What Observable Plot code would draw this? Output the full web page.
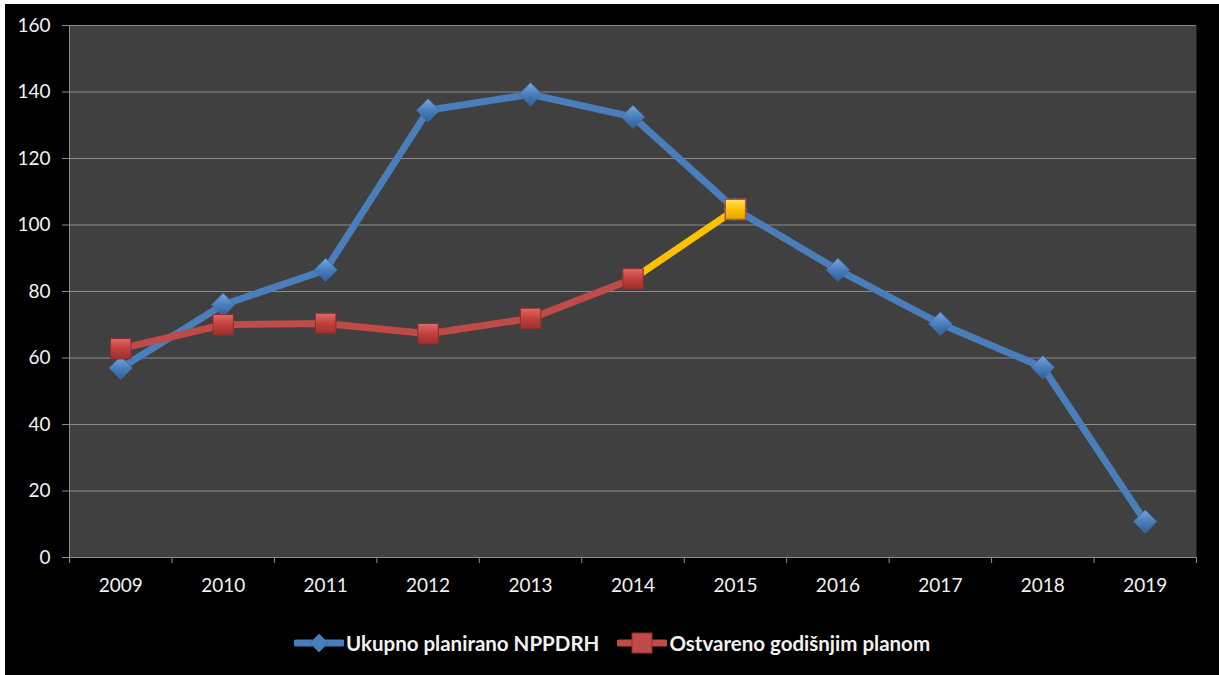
<!DOCTYPE html>
<html>
<head>
<meta charset="utf-8">
<script src="https://cdn.jsdelivr.net/npm/d3@7"></script>
<script src="https://cdn.jsdelivr.net/npm/@observablehq/plot@0.6"></script>
<style>
  html, body { margin: 0; padding: 0; background: #ffffff; }
  #wrap { position: absolute; left: 5px; top: 4px; width: 1214px; height: 671px; background: #000; overflow: hidden; }
  #legend { position: absolute; left: 0; top: 627px; width: 1214px; display: flex; justify-content: center; gap: 18px;
    font-family: Lato, "Open Sans", sans-serif; font-weight: bold; font-size: 20.5px; color: #f2f2f2; }
  .item { display: flex; align-items: center; gap: 2px; }
</style>
</head>
<body>
<div id="wrap">
  <div id="chart"></div>
  <div id="legend"></div>
</div>
<script>
const years = ["2009","2010","2011","2012","2013","2014","2015","2016","2017","2018","2019"];
const planned = [57, 76, 86.5, 134.5, 139.3, 132.5, 104.7, 86.5, 70.3, 57.2, 10.8];
const realizedYears = ["2009","2010","2011","2012","2013","2014","2015"];
const realized = [62.8, 70, 70.4, 67.3, 71.9, 83.8, 104.7];
const yTicks = [0, 20, 40, 60, 80, 100, 120, 140, 160];
const seriesNames = ["Ukupno planirano NPPDRH", "Ostvareno godišnjim planom"];

const blue = "#4a7ebb", red = "#be4b48", yellow = "#ffc000";
const idx = y => years.indexOf(y) + 0.5;

const plannedData = years.map((y, i) => ({x: idx(y), v: planned[i]}));
const realizedData = realizedYears.map((y, i) => ({x: idx(y), v: realized[i]}));
const redLine = realizedData.slice(0, 6);
const yellowLine = realizedData.slice(5, 7);
const redPts = realizedData.slice(0, 6);
const yellowPts = realizedData.slice(6);

const NS = "http://www.w3.org/2000/svg";
function defs() {
  const d = document.createElementNS(NS, "defs");
  d.innerHTML = `
    <linearGradient id="gBlue" x1="0" y1="0" x2="0" y2="1">
      <stop offset="0" stop-color="#7aa7e0"/><stop offset="0.5" stop-color="#4a7ebb"/><stop offset="1" stop-color="#2f5f9a"/>
    </linearGradient>
    <linearGradient id="gRed" x1="0" y1="0" x2="0" y2="1">
      <stop offset="0" stop-color="#e06a66"/><stop offset="0.5" stop-color="#c0403d"/><stop offset="1" stop-color="#9e2f2c"/>
    </linearGradient>
    <linearGradient id="gYellow" x1="0" y1="0" x2="0" y2="1">
      <stop offset="0" stop-color="#ffe066"/><stop offset="0.5" stop-color="#ffc000"/><stop offset="1" stop-color="#e0a400"/>
    </linearGradient>`;
  return d;
}

const font = "Lato, 'Open Sans', sans-serif";

const chart = Plot.plot({
  width: 1214,
  height: 620,
  marginLeft: 64,
  marginRight: 23,
  marginTop: 21,
  marginBottom: 67,
  style: {background: "#000", color: "#f2f2f2", fontFamily: font, fontSize: "19px"},
  x: {type: "linear", domain: [0, years.length]},
  y: {domain: [0, 160]},
  marks: [
    defs,
    Plot.frame({fill: "#404040", stroke: null}),
    Plot.gridY(yTicks, {stroke: "#8c8c8c", strokeOpacity: 1, strokeWidth: 1}),
    Plot.axisY(yTicks, {tickSize: 7, tickPadding: 12, stroke: "#8c8c8c", fill: "#f2f2f2", label: null, fontSize: 19}),
    Plot.ruleX([0], {stroke: "#8c8c8c"}),
    Plot.ruleY([0], {stroke: "#8c8c8c"}),
    Plot.axisX(d3.range(0, years.length + 1), {tickSize: 6, stroke: "#8c8c8c", tickFormat: null, text: null, label: null}),
    Plot.axisX(years.map(idx), {tickSize: 0, tickPadding: 21, tickFormat: d => years[Math.round(d - 0.5)], fill: "#f2f2f2", label: null, fontSize: 19}),
    Plot.lineY(plannedData, {x: "x", y: "v", stroke: blue, strokeWidth: 7, strokeLinejoin: "round"}),
    Plot.dot(plannedData, {x: "x", y: "v", symbol: "diamond2", r: 10.5, fill: "url(#gBlue)", stroke: "#3a6aa4", strokeWidth: 0.8}),
    Plot.lineY(redLine, {x: "x", y: "v", stroke: red, strokeWidth: 7, strokeLinejoin: "round"}),
    Plot.lineY(yellowLine, {x: "x", y: "v", stroke: yellow, strokeWidth: 7, strokeLinejoin: "round"}),
    Plot.dot(redPts, {x: "x", y: "v", symbol: "square2", r: 13, fill: "url(#gRed)", stroke: "#8e2e2b", strokeWidth: 1}),
    Plot.dot(yellowPts, {x: "x", y: "v", symbol: "square2", r: 13, fill: "url(#gYellow)", stroke: "#be4b48", strokeWidth: 1.5})
  ]
});
document.getElementById("chart").appendChild(chart);

const legend = document.getElementById("legend");
const samples = [
  `<svg width="50" height="22"><line x1="2" y1="11" x2="48" y2="11" stroke="${blue}" stroke-width="7" stroke-linecap="round"/><path d="M25 2 L34 11 L25 20 L16 11 Z" fill="${blue}" stroke="#3a6aa4"/></svg>`,
  `<svg width="50" height="22"><line x1="2" y1="11" x2="48" y2="11" stroke="${red}" stroke-width="7" stroke-linecap="round"/><rect x="15" y="1" width="20" height="20" fill="${red}" stroke="#8e2e2b"/></svg>`
];
seriesNames.forEach((name, i) => {
  const it = document.createElement("div");
  it.className = "item";
  it.innerHTML = samples[i] + `<span>${name}</span>`;
  legend.appendChild(it);
});
</script>
</body>
</html>
